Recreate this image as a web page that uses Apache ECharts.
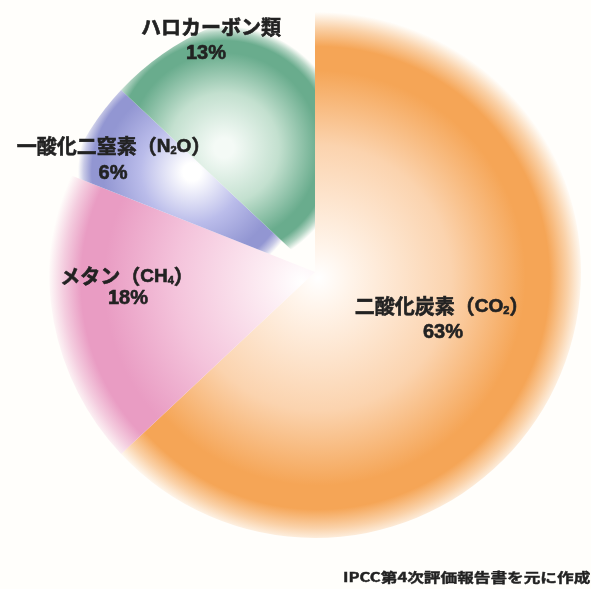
<!DOCTYPE html>
<html>
<head>
<meta charset="utf-8">
<script src="https://cdn.jsdelivr.net/npm/echarts@6/dist/echarts.min.js"></script>
<style>
  html, body { margin: 0; padding: 0; background: #fffefb; }
  #chart { width: 591px; height: 589px; }
</style>
</head>
<body>
<div id="chart"></div>
<script>
// Greenhouse gas shares (%), clockwise from 12 o'clock
const gasNames = ['二酸化炭素', 'メタン', '一酸化二窒素', 'ハロカーボン類'];
const gasFormulaMain = ['CO', 'CH', 'N', ''];
const gasFormulaSub = ['2', '4', '2', ''];
const gasFormulaTail = ['', '', 'O', ''];
const gasShares = [63, 18, 6, 13];
const sourceNote = 'IPCC第4次評価報告書を元に作成';

// Colour ramps for each slice: light core fading to a strong rim
const sliceRims = ['#f5a556', '#e99cc3', '#9296d2', '#69ac8d'];
const sliceMids = ['#fbd3ae', '#f4c3db', '#babcea', '#c3e0cf'];
const sliceCores = ['#fff4ea', '#fdf0f5', '#ffffff', '#f4faf6'];

const pieCenter = [315, 272];
const pieRadius = 266;

// Glow centre / radius for each slice's shading
const glowCenters = [[318, 278], [302, 282], [192, 172], [224, 148]];
const glowRadii = [266, 254, 114, 122];

// Label anchors (title line, percentage line)
const labelTitlePos = [[442, 304], [127, 274], [114, 144], [211, 25]];
const labelPctPos = [[443, 332], [128, 298], [113, 173], [206, 53]];

function fade(hex, a) {
  const n = parseInt(hex.slice(1), 16);
  return 'rgba(' + (n >> 16 & 255) + ',' + (n >> 8 & 255) + ',' + (n & 255) + ',' + a + ')';
}

function sliceFill(i) {
  const wide = i < 2;
  return {
    type: 'radial',
    x: glowCenters[i][0],
    y: glowCenters[i][1],
    r: glowRadii[i],
    global: true,
    colorStops: wide ? [
      { offset: 0, color: '#ffffff' },
      { offset: 0.12, color: sliceCores[i] },
      { offset: 0.5, color: sliceMids[i] },
      { offset: 0.78, color: sliceRims[i] },
      { offset: 0.87, color: sliceRims[i] },
      { offset: 0.94, color: fade(sliceRims[i], 0.5) },
      { offset: 1, color: fade(sliceRims[i], 0) }
    ] : [
      { offset: 0, color: sliceCores[i] },
      { offset: 0.08, color: sliceCores[i] },
      { offset: 0.45, color: sliceMids[i] },
      { offset: 0.78, color: sliceRims[i] },
      { offset: 0.88, color: sliceRims[i] },
      { offset: 0.95, color: fade(sliceRims[i], 0.5) },
      { offset: 1, color: fade(sliceRims[i], 0) }
    ]
  };
}

const pieData = gasNames.map((name, i) => ({
  name: name,
  value: gasShares[i],
  itemStyle: { color: sliceFill(i) }
}));

const cjkFont = '"Noto Sans CJK JP", sans-serif';
const latinFont = '"Liberation Sans", "Noto Sans CJK JP", sans-serif';
const textColor = '#222222';
// thin outline of the same colour to thicken the glyphs
const heavy = { stroke: textColor, lineWidth: 0.6 };

const labelGraphics = [];
gasNames.forEach((name, i) => {
  let text = '{t|' + name + '}';
  if (gasFormulaMain[i]) {
    text = '{t|' + name + '（}{f|' + gasFormulaMain[i] + '}{s|' + gasFormulaSub[i] + '}{f|' + gasFormulaTail[i] + '}{t|）}';
  }
  labelGraphics.push({
    type: 'text',
    x: labelTitlePos[i][0],
    y: labelTitlePos[i][1],
    z: 100,
    silent: true,
    style: {
      text: text,
      align: 'center',
      verticalAlign: 'middle',
      rich: {
        t: Object.assign({ fontFamily: cjkFont, fontWeight: 'bold', fontSize: 20, lineHeight: 24, fill: textColor, verticalAlign: 'bottom' }, heavy),
        f: Object.assign({ fontFamily: latinFont, fontWeight: 'bold', fontSize: 19, lineHeight: 24, fill: textColor, verticalAlign: 'bottom' }, heavy),
        s: Object.assign({ fontFamily: latinFont, fontWeight: 'bold', fontSize: 11, lineHeight: 22, fill: textColor, verticalAlign: 'bottom' }, heavy)
      }
    }
  });
  labelGraphics.push({
    type: 'text',
    x: labelPctPos[i][0],
    y: labelPctPos[i][1],
    z: 100,
    silent: true,
    style: Object.assign({
      text: gasShares[i] + '%',
      align: 'center',
      verticalAlign: 'middle',
      fontFamily: latinFont,
      fontWeight: 'bold',
      fontSize: 20,
      fill: textColor
    }, heavy)
  });
});

labelGraphics.push({
  type: 'text',
  x: 343,
  y: 577,
  z: 100,
  scaleX: 1.28,
  silent: true,
  style: {
    text: sourceNote,
    align: 'left',
    verticalAlign: 'middle',
    fontFamily: cjkFont,
    fontWeight: 'bold',
    fontSize: 13,
    fill: '#222222',
    stroke: '#222222',
    lineWidth: 0.4
  }
});

const chart = echarts.init(document.getElementById('chart'), null, { renderer: 'canvas' });
chart.setOption({
  backgroundColor: '#fffefb',
  animation: false,
  series: [{
    type: 'pie',
    z: 1,
    center: pieCenter,
    radius: pieRadius,
    startAngle: 90,
    clockwise: true,
    silent: true,
    avoidLabelOverlap: false,
    label: { show: false },
    labelLine: { show: false },
    itemStyle: { borderWidth: 0 },
    emphasis: { disabled: true },
    data: pieData
  }],
  graphic: { elements: labelGraphics }
});
</script>
</body>
</html>
